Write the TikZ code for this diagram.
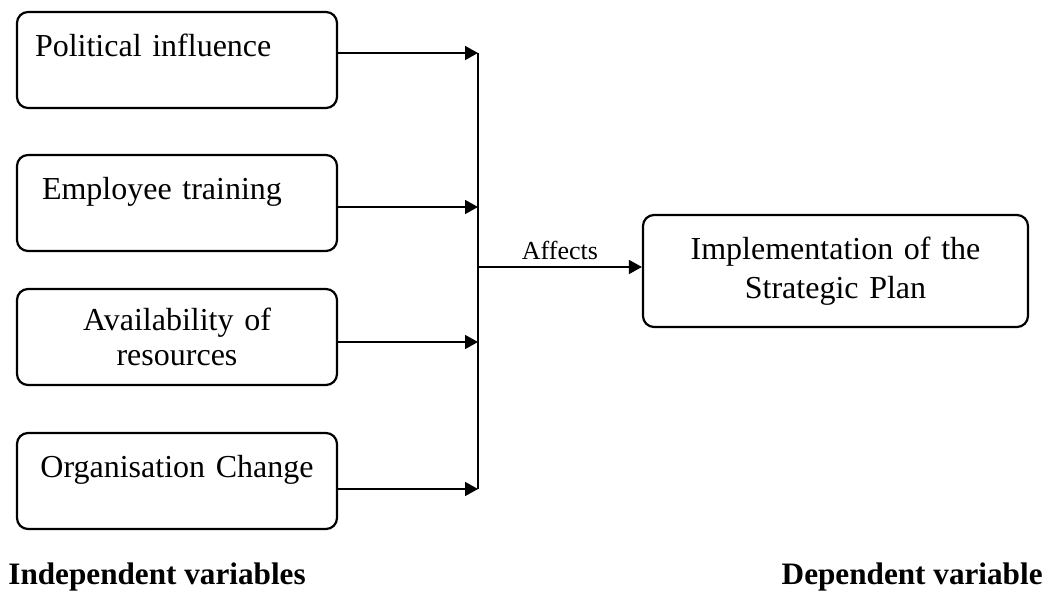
\documentclass[tikz,border=0pt]{standalone}
\usepackage{fontspec}
\setmainfont{Liberation Serif}
\usetikzlibrary {
  positioning,
  arrows.meta,
}
\tikzset{
  var/.style = {
    rectangle,
    draw = black,
    line width = 1.1pt,
    rounded corners = 5.5pt,
    minimum width = 160pt,
    minimum height = 48pt,
    font = \fontsize{16}{17.5}\selectfont
  },
  oneline/.style = {
    text height = 11pt,
    text depth = 14pt
  },
  result/.style = {
    var,
    minimum width = 192.5pt,
    minimum height = 56pt,
    text width = 182pt,
    inner xsep = 5pt,
    align = center,
    font = \fontsize{16}{19.5}\selectfont
  },
  line/.style = {
    -{Triangle[length = 6.5pt, width = 7pt]},
    line width = 0.8pt
  },
  bus/.style = {
    -,
    line width = 0.8pt
  },
  heading/.style = {
    inner sep = 0pt,
    font = \fontsize{15.6}{19}\selectfont\bfseries
  },
}

\begin{document}
\begin{tikzpicture}[x = 0.5pt, y = -0.5pt]
  \useasboundingbox (0,0) rectangle (1051,592);
  \node[var, oneline, text width = 142pt, inner xsep = 9pt, align = left] (P)
  at (177,60) {Political influence};
  \node[var, oneline, text width = 135pt, inner xsep = 12.5pt, align = left,
  below = 22.4pt of P] (E) {Employee training};
  \node[var, text width = 150pt, inner xsep = 5pt, align = center,
  below = 17.9pt of E] (A) {Availability of\\ resources};
  \node[var, oneline, text width = 150pt, inner xsep = 5pt, align = center,
  below = 22.9pt of A] (O) {Organisation Change};
  \node[result] (R) at (835.5,271) {Implementation of the\\ Strategic Plan};
  \coordinate (J) at (478,271);
  \coordinate (pP) at ([yshift = 3.5pt]P.east);
  \coordinate (pE) at ([yshift = -2pt]E.east);
  \coordinate (pA) at ([yshift = -2.5pt]A.east);
  \coordinate (pO) at ([yshift = -4pt]O.east);
  \coordinate (pR) at ([yshift = 2pt]R.west);
  \draw[line] (pP) to (pP -| J);
  \draw[line] (pE) to (pE -| J);
  \draw[line] (pA) to (pA -| J);
  \draw[line] (pO) to (pO -| J);
  \draw[bus] (pP -| J) to (pO -| J);
  \draw[line] (pR -| J) to node[above, font = \fontsize{13}{15}\selectfont] (aff)
  {Affects} (pR);
  \node[heading, anchor = base west] (IV) at (8,585) {Independent variables};
  \node[heading, anchor = base east] (DV) at (1043,585) {Dependent variable};
\end{tikzpicture}
\end{document}
